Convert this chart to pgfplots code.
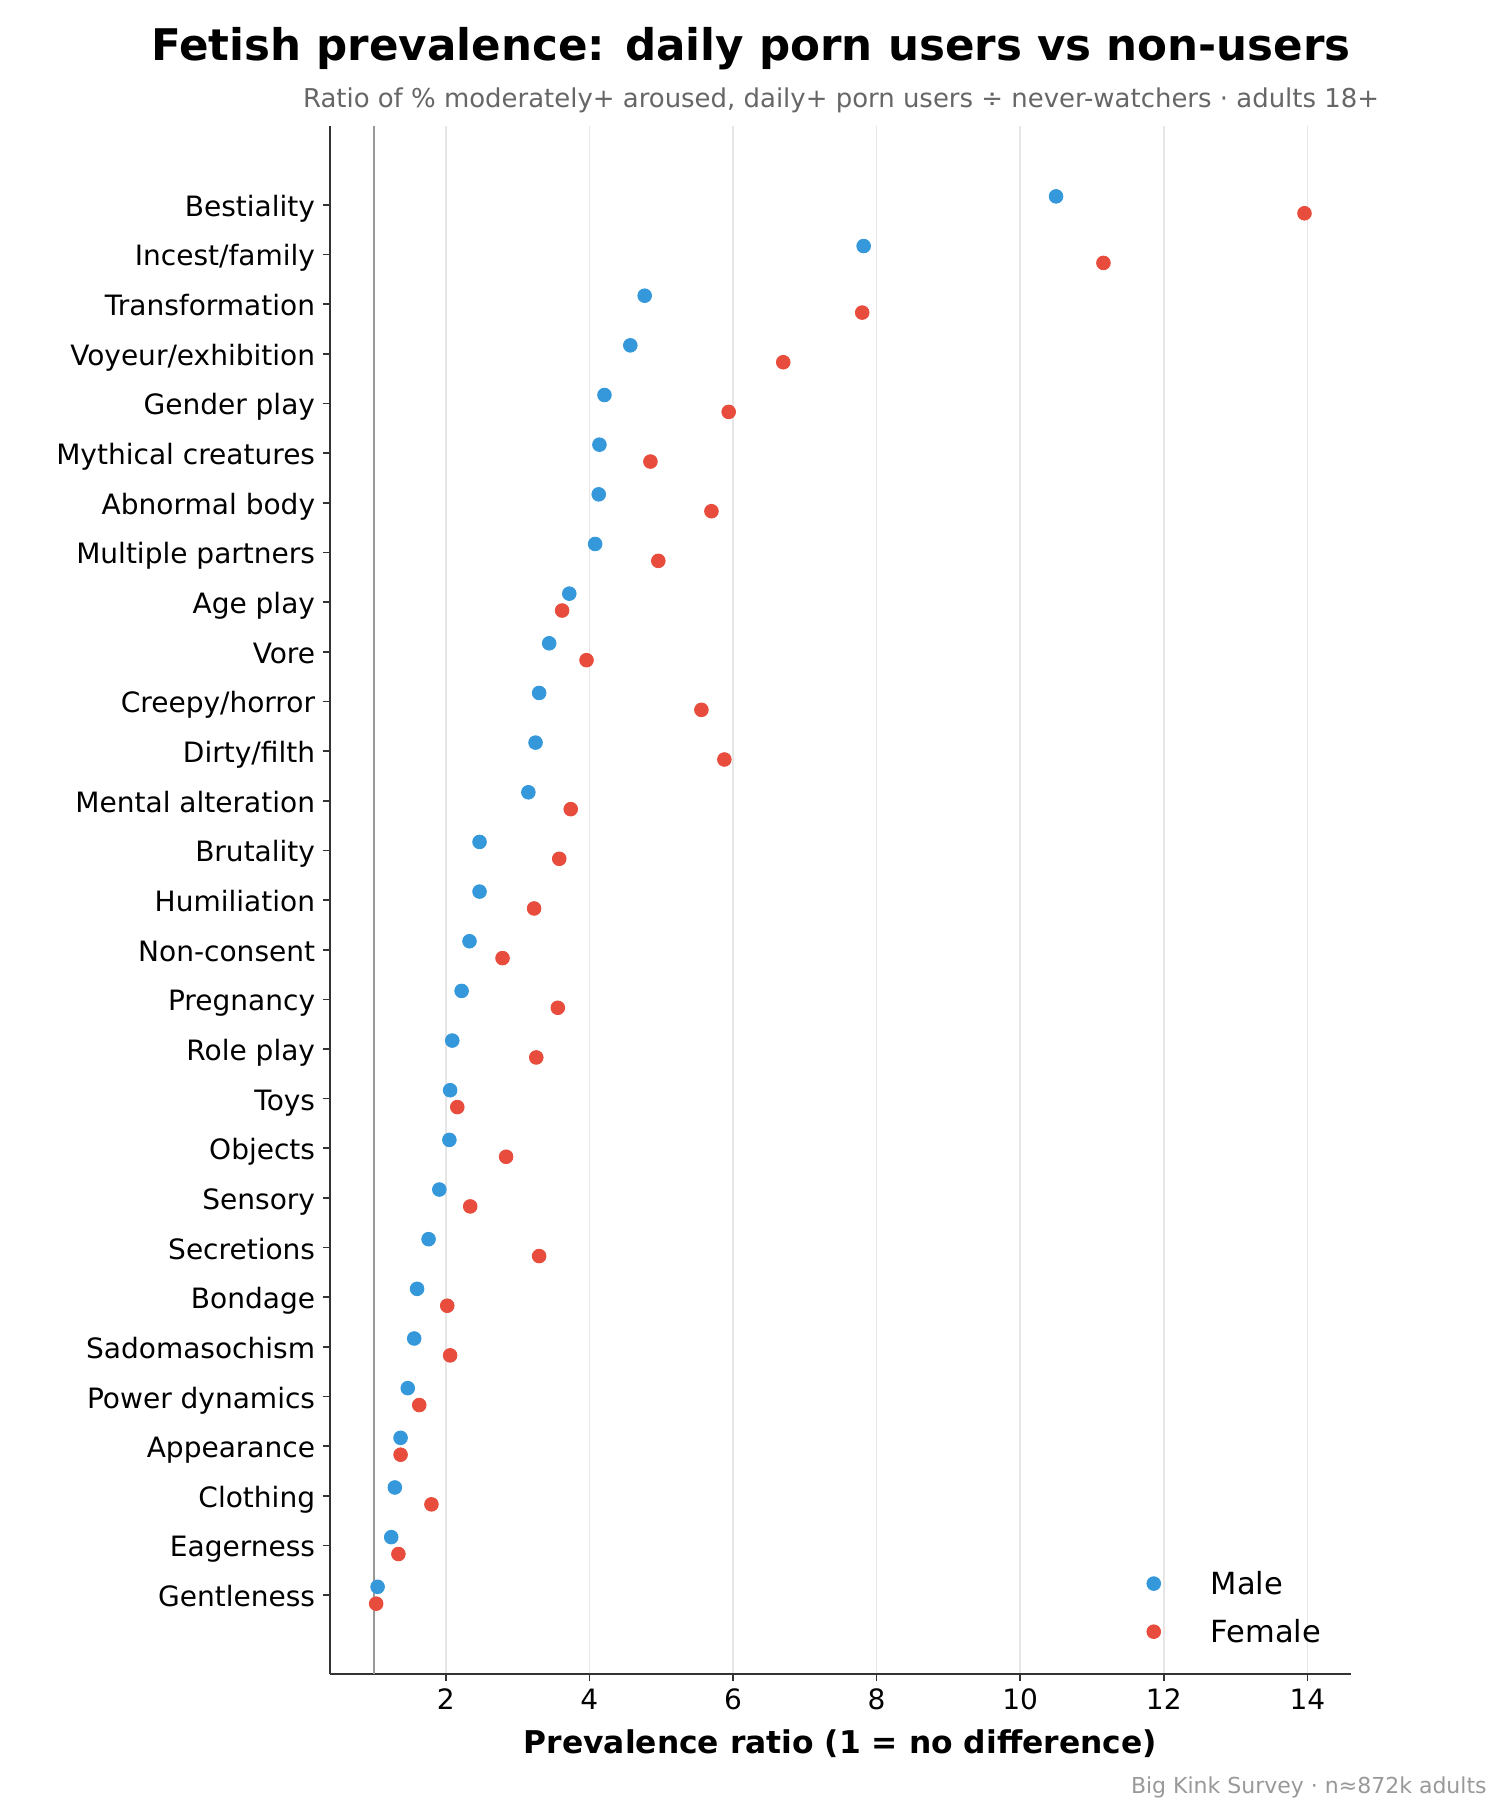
\documentclass[border=0pt]{standalone}
\usepackage{fontspec}
\setmainfont{DejaVu Sans}
\usepackage{pgfplots}
\usepackage{pgfplotstable}
\pgfplotsset{compat=1.18}
\definecolor{male}{HTML}{3498DB}
\definecolor{female}{HTML}{E74C3C}
\definecolor{spine}{HTML}{333333}
\definecolor{gridc}{HTML}{E6E6E6}
\definecolor{refline}{HTML}{999999}
\definecolor{subc}{HTML}{666666}
\definecolor{footc}{HTML}{999999}
\newlength\U \setlength\U{0.4818pt}

% y = row index - 0.17 (male), + 0.17 (female); row 0 = Bestiality (top)
\pgfplotstableread{
x y
10.50 -0.17
7.82 0.83
4.77 1.83
4.57 2.83
4.21 3.83
4.14 4.83
4.13 5.83
4.08 6.83
3.72 7.83
3.44 8.83
3.30 9.83
3.25 10.83
3.15 11.83
2.47 12.83
2.47 13.83
2.33 14.83
2.22 15.83
2.09 16.83
2.06 17.83
2.05 18.83
1.91 19.83
1.76 20.83
1.60 21.83
1.56 22.83
1.47 23.83
1.37 24.83
1.29 25.83
1.24 26.83
1.05 27.83
}\maletab
\pgfplotstableread{
x y
13.96 0.17
11.16 1.17
7.80 2.17
6.70 3.17
5.94 4.17
4.85 5.17
5.70 6.17
4.96 7.17
3.62 8.17
3.96 9.17
5.56 10.17
5.88 11.17
3.74 12.17
3.58 13.17
3.23 14.17
2.79 15.17
3.56 16.17
3.26 17.17
2.16 18.17
2.84 19.17
2.34 20.17
3.30 21.17
2.02 22.17
2.06 23.17
1.63 24.17
1.37 25.17
1.80 26.17
1.34 27.17
1.03 28.17
}\femaletab

\begin{document}
\begin{tikzpicture}
\useasboundingbox (0,0) rectangle (1500\U,-1800\U);
\begin{axis}[
  at={(330\U,-1674\U)}, anchor=south west,
  scale only axis, width=1020.7\U, height=1548\U,
  xmin=0.387, xmax=14.604, ymin=-1.587, ymax=29.587, y dir=reverse,
  axis x line*=bottom, axis y line*=left,
  axis line style={spine, line width=0.9pt},
  xtick={2,4,...,14},
  ytick={0,...,28},
  yticklabels={Bestiality,Incest/family,Transformation,Voyeur/exhibition,Gender play,Mythical creatures,Abnormal body,Multiple partners,Age play,Vore,Creepy/horror,Dirty/filth,Mental alteration,Brutality,Humiliation,Non-consent,Pregnancy,Role play,Toys,Objects,Sensory,Secretions,Bondage,Sadomasochism,Power dynamics,Appearance,Clothing,Eagerness,Gentleness},
  xmajorgrids, major grid style={gridc, line width=0.8pt},
  tick align=outside, major tick length=3.5pt,
  tick style={spine, line width=0.8pt},
  /pgf/number format/assume math mode=true,
  xticklabel style={font=\fontsize{13.5}{16}\selectfont, anchor=north, inner sep=0pt, yshift=-3.5pt},
  yticklabel style={font=\fontsize{13.5}{16}\selectfont, anchor=base east, inner sep=0pt, xshift=-3.5pt, yshift=-5.5pt},
  xlabel={Prevalence ratio (1 = no difference)},
  xlabel style={font=\fontsize{15.1}{18}\selectfont\bfseries, at={(axis description cs:0.5,0)}, anchor=base, yshift=-38.06pt},
  legend style={draw=none, fill=none, inner sep=0pt, outer sep=0pt,
    at={(axis description cs:0.7985,0.0663)}, anchor=north west,
    font=\fontsize{14.7}{17}\selectfont,
    nodes={inner sep=0pt, anchor=base west},
    row sep=10.5pt, column sep=5.3pt},
  legend cell align=left,
  legend image code/.code={\path (-4pt,0pt) (22pt,0pt); \draw[#1, mark repeat=1] plot coordinates {(0pt,5.3pt)};},
]
\addplot[refline, line width=1pt, forget plot] coordinates {(1,-1.587) (1,29.587)};
\addplot[only marks, color=male, mark=*, mark size=3.3pt, mark options={draw=none, fill=male}] table[x=x,y=y] {\maletab};
\addlegendentry{Male}
\addplot[only marks, color=female, mark=*, mark size=3.3pt, mark options={draw=none, fill=female}] table[x=x,y=y] {\femaletab};
\addlegendentry{Female}
\end{axis}
\node[anchor=base, font=\fontsize{21}{25}\selectfont\bfseries] at (751\U,-61\U) {Fetish prevalence: daily porn users vs non-users};
\node[anchor=base, font=\fontsize{12.5}{15}\selectfont, text=subc] at (841\U,-108\U) {Ratio of \% moderately+ aroused, daily+ porn users ÷ never-watchers · adults 18+};
\node[anchor=base east, font=\fontsize{10.6}{13}\selectfont, text=footc, inner sep=0pt] at (1487\U,-1793\U) {Big Kink Survey · n≈872k adults};
\end{tikzpicture}
\end{document}
